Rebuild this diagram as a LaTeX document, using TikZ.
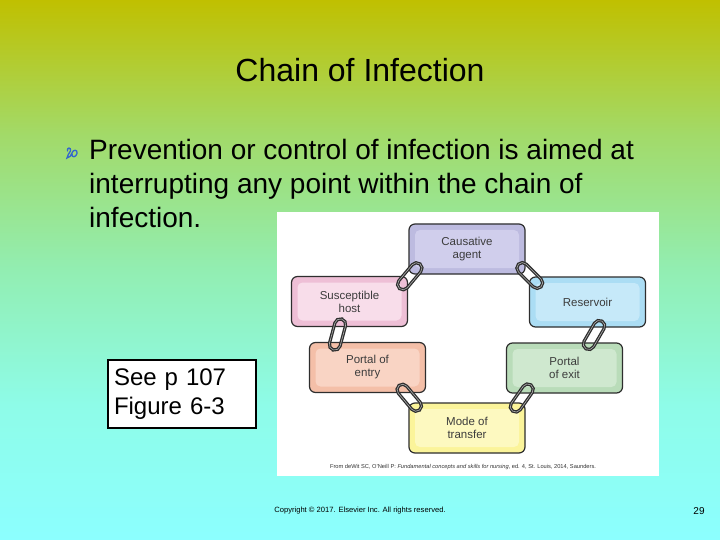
\documentclass[tikz,border=0pt]{standalone}
\usepackage{fontspec}
\setmainfont{Liberation Sans}
\usetikzlibrary{calc}
\definecolor{bgA}{RGB}{140,255,255}
\definecolor{bgB}{RGB}{142,252,232}
\definecolor{bgC}{RGB}{146,238,178}
\definecolor{bgD}{RGB}{162,218,105}
\definecolor{bgE}{RGB}{192,192,0}
\pgfdeclareverticalshading{slidebg}{100bp}{%
  color(0bp)=(bgA); color(25bp)=(bgA); color(37.5bp)=(bgB); color(50bp)=(bgC);
  color(62.5bp)=(bgD); color(75bp)=(bgE); color(100bp)=(bgE)}
\definecolor{causeO}{HTML}{BDBBE0}\definecolor{causeI}{HTML}{D0CEEC}
\definecolor{resO}{HTML}{ABDDF4}\definecolor{resI}{HTML}{C6E9F9}
\definecolor{hostO}{HTML}{EEBFD6}\definecolor{hostI}{HTML}{F8DDEA}
\definecolor{entO}{HTML}{F4BFA8}\definecolor{entI}{HTML}{F9D4C4}
\definecolor{exitO}{HTML}{B9DCB9}\definecolor{exitI}{HTML}{CFE8CF}
\definecolor{modeO}{HTML}{FBF49A}\definecolor{modeI}{HTML}{FDF9C0}
\definecolor{boxtext}{HTML}{3C3C3C}
\definecolor{linkdark}{HTML}{2E2E2E}
\definecolor{bulletblue}{HTML}{3366CC}
\tikzset{
  chainbox/.style 2 args={draw=linkdark, line width=1.2pt, rounded corners=6pt,
    fill=#1, minimum width=116pt, minimum height=50pt, align=center,
    font=\fontsize{11.5}{13}\selectfont, text=boxtext, inner sep=0pt,
    path picture={\fill[#2, rounded corners=5pt]
      ([shift={(6pt,-6pt)}]path picture bounding box.north west) rectangle
      ([shift={(-6pt,6pt)}]path picture bounding box.south east);}},
  linkouter/.style={draw=linkdark, line width=3.2pt, rounded corners=5.5pt},
  linkinner/.style={draw=gray!60, line width=0.6pt, rounded corners=5.5pt},
}
\newcommand{\chainlink}[2]{%
  \begin{scope}[shift={(#1)}, rotate=#2]
    \draw[linkouter] (-16pt,-5.5pt) rectangle (16pt,5.5pt);
    \draw[linkinner] (-16pt,-5.5pt) rectangle (16pt,5.5pt);
  \end{scope}}
\begin{document}
\begin{tikzpicture}[x=1pt,y=-1pt]
\useasboundingbox (0,0) rectangle (720,540);
\shade[shading=slidebg] (0,0) rectangle (720,540);

% title
\node[font=\fontsize{32}{38}\selectfont] (title) at (360,70) {Chain of Infection};

% bullet
\draw[bulletblue, line width=1.3pt, line cap=round]
  (67.5,151) .. controls (66.5,147) and (71.5,147) .. (70.5,151)
  .. controls (70,153.5) and (66.5,155) .. (67,158)
  .. controls (70,157.5) and (71,155.5) .. (72,153)
  .. controls (73,149) and (78,149.5) .. (77,153.5)
  .. controls (76,157.5) and (71.5,158) .. (72,154);

% body text
\node[anchor=base west, font=\fontsize{28}{33.5}\selectfont, inner sep=0pt] (l1) at (89,160) {Prevention or control of infection is aimed at};
\node[anchor=base west, font=\fontsize{28}{33.5}\selectfont, inner sep=0pt] (l2) at (89,193.5) {interrupting any point within the chain of};
\node[anchor=base west, font=\fontsize{28}{33.5}\selectfont, inner sep=0pt] (l3) at (89,227) {infection.};

% figure panel
\fill[white] (277,212) rectangle (659,476);

\node[chainbox={causeO}{causeI}] (cause) at (467,249) {Causative\\agent};
\node[chainbox={resO}{resI}] (res) at (587.5,302) {Reservoir};
\node[chainbox={hostO}{hostI}] (host) at (349.5,301.5) {Susceptible\\host};
\node[chainbox={entO}{entI}] (entry) at (367.5,367.5) {Portal of\\entry};
\node[chainbox={exitO}{exitI}] (exit) at (564.5,368) {Portal\\of exit};
\node[chainbox={modeO}{modeI}] (mode) at (467,428) {Mode of\\transfer};

% chain links between boxes
\coordinate (k1) at ($(cause.south west)!0.5!(host.north east)+(1.5,1)$);
\coordinate (k2) at ($(cause.south east)!0.5!(res.north west)+(2.5,0)$);
\coordinate (k3) at ($(host.south)!0.5!(entry.north)+(-21,0)$);
\coordinate (k4) at ($(res.south)!0.5!(exit.north)+(18,0)$);
\coordinate (k5) at ($(entry.south east)!0.5!(mode.north west)+(-8,0)$);
\coordinate (k6) at ($(exit.south west)!0.5!(mode.north east)+(6,0)$);
\chainlink{k1}{50}
\chainlink{k2}{-45}
\chainlink{k3}{75}
\chainlink{k4}{60}
\chainlink{k5}{-50}
\chainlink{k6}{55}

\node[font=\fontsize{5.7}{6.5}\selectfont, text=black!80] (cap) at (463,467)
  {From deWit SC, O'Neill P: \textit{Fundamental concepts and skills for nursing}, ed. 4, St. Louis, 2014, Saunders.};

% see box
\node[draw=black, line width=2pt, fill=white, minimum width=148pt, minimum height=68pt,
  align=left, font=\fontsize{24}{29}\selectfont, inner sep=0pt, text width=136pt] (see) at (182,394)
  {See p 107\\Figure 6-3};

% footer
\node[font=\fontsize{7.6}{9}\selectfont] (copy) at (360,511) {Copyright © 2017. Elsevier Inc. All rights reserved.};
\node[font=\fontsize{10}{11}\selectfont] (pg) at (699,511) {29};
\end{tikzpicture}
\end{document}
